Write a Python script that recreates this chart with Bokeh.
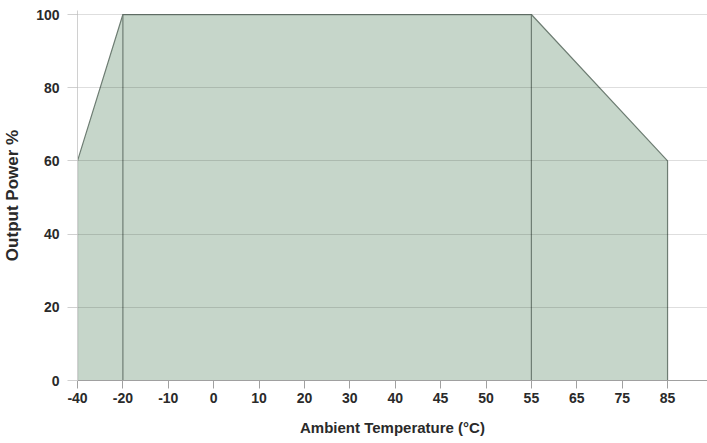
from bokeh.plotting import figure
from bokeh.models import Range1d, FixedTicker
from bokeh.embed import file_html
from bokeh.resources import INLINE

# Category-like temperature axis (evenly spaced ticks)
temp_ticks = [-40, -20, -10, 0, 10, 20, 30, 40, 45, 50, 55, 65, 75, 85]
power_ticks = [0, 20, 40, 60, 80, 100]

# Derating curve
curve_temp = [-40, -40, -20, 55, 85, 85]
curve_power = [0, 60, 100, 100, 60, 0]

# Marker lines
marker_temp = [-20, 55]
marker_power = [100, 100]

def pos(t):
    return temp_ticks.index(t)

xs = [pos(t) for t in curve_temp]
mx = [pos(t) for t in marker_temp]

p = figure(width=707, height=443, output_backend="svg", toolbar_location=None,
           x_range=Range1d(0, 13.88), y_range=Range1d(0, 101.1),
           min_border_left=76, min_border_right=0, min_border_top=10, min_border_bottom=63)
p.outline_line_color = None
p.background_fill_color = "white"

p.patch(xs, curve_power, fill_color="#c6d6ca", fill_alpha=1.0,
        line_color="#6e7d73", line_width=1.2)
p.segment(x0=mx, y0=[0, 0], x1=mx, y1=marker_power, line_color="#6e7d73", line_width=1.2)

p.xgrid.visible = False
p.ygrid.ticker = FixedTicker(ticks=power_ticks)
p.ygrid.grid_line_color = "#000000"
p.ygrid.grid_line_alpha = 0.13
p.ygrid.level = "overlay"

font = "Liberation Sans"
p.xaxis.ticker = FixedTicker(ticks=list(range(len(temp_ticks))))
p.xaxis.major_label_overrides = {i: str(t) for i, t in enumerate(temp_ticks)}
p.xaxis.axis_line_color = "#a0a0a0"
p.xaxis.major_tick_line_color = "#a0a0a0"
p.xaxis.major_tick_out = 8
p.xaxis.major_tick_in = 0
p.xaxis.minor_tick_line_color = None
p.xaxis.major_label_standoff = 4
p.xaxis.axis_label = "Ambient Temperature (°C)"
p.xaxis.axis_label_standoff = 13

p.yaxis.ticker = FixedTicker(ticks=power_ticks)
p.yaxis.axis_line_color = "#d0d0d0"
p.yaxis.major_tick_line_color = "#d0d0d0"
p.yaxis.major_tick_out = 10
p.yaxis.major_tick_in = 0
p.yaxis.minor_tick_line_color = None
p.yaxis.major_label_standoff = 8
p.yaxis.axis_label = "Output Power %"
p.yaxis.axis_label_standoff = 11

for ax in (p.xaxis, p.yaxis):
    ax.major_label_text_font = font
    ax.major_label_text_font_style = "bold"
    ax.major_label_text_font_size = "14px"
    ax.major_label_text_color = "#2a2a2a"
    ax.axis_label_text_font = font
    ax.axis_label_text_font_style = "bold"
    ax.axis_label_text_color = "#2a2a2a"
p.xaxis.axis_label_text_font_size = "15px"
p.yaxis.axis_label_text_font_size = "17px"

open("out.html", "w").write(file_html(p, INLINE))
